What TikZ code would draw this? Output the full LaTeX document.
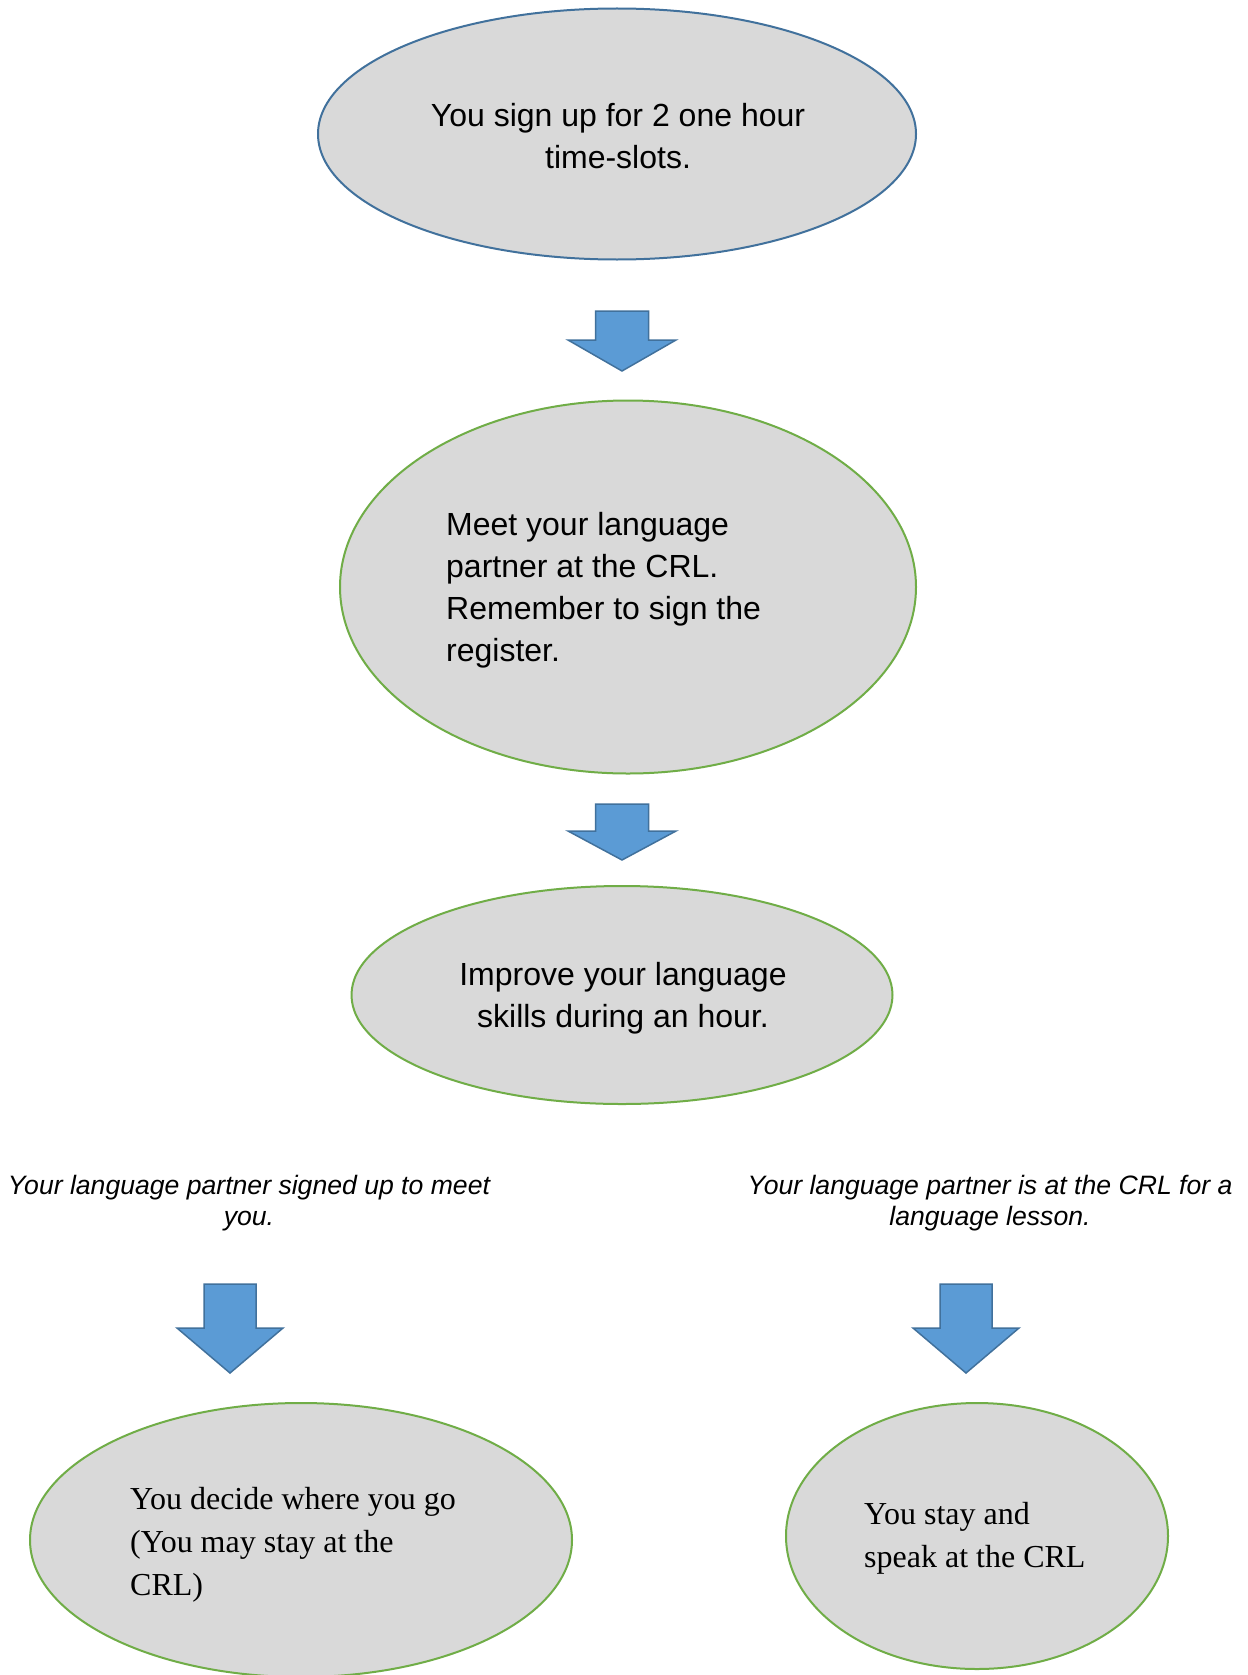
\documentclass[tikz,border=0pt]{standalone}
\usepackage{fontspec}
\setmainfont{Liberation Sans}
\newfontfamily\timesfont{Liberation Serif}
\usetikzlibrary{shapes.geometric}
\definecolor{fillgray}{HTML}{D9D9D9}
\definecolor{blueline}{HTML}{41719C}
\definecolor{greenline}{HTML}{70AD47}
\definecolor{arrowblue}{HTML}{5B9BD5}
\tikzset{
  oval/.style={ellipse, fill=fillgray, line width=2pt, inner sep=0pt},
  bluebox/.style={oval, draw=blueline},
  greenbox/.style={oval, draw=greenline},
  bodytext/.style={inner sep=0pt, font=\fontsize{32}{42}\selectfont},
  serifbody/.style={inner sep=0pt, align=left, font=\timesfont\fontsize{32}{43}\selectfont},
  note/.style={inner sep=0pt, align=center, font=\itshape\fontsize{26.6}{31}\selectfont},
  blockarrow/.style={fill=arrowblue, draw=blueline, line width=1.5pt, line join=miter},
}
\begin{document}
\begin{tikzpicture}[x=1pt, y=-1pt]
\fill[white] (0,0) rectangle (1247,1675);
\useasboundingbox (0,0) rectangle (1247,1675);

% ellipses
\node[bluebox, minimum width=598pt, minimum height=251pt] (e1) at (617,134) {};
\node[greenbox, minimum width=576pt, minimum height=373pt] (e2) at (628,587) {};
\node[greenbox, minimum width=541pt, minimum height=218pt] (e3) at (622,995) {};
\node[greenbox, minimum width=542pt, minimum height=274pt] (e4) at (301,1540) {};
\node[greenbox, minimum width=382pt, minimum height=266pt] (e5) at (977,1536) {};

% texts
\node[bodytext, align=center] (t1) at (618,136) {You sign up for 2 one hour\\time-slots.};
\node[bodytext, align=left, anchor=west] (t2) at (446,590) {Meet your language\\partner at the CRL.\\Remember to sign the\\register.};
\node[bodytext, align=center] (t3) at (623,998) {Improve your language\\skills during an hour.};
\node[serifbody, anchor=west] (t4) at (130,1545) {You decide where you go\\(You may stay at the\\CRL)};
\node[serifbody, anchor=west] (t5) at (864,1538) {You stay and\\speak at the CRL};

% notes
\node[note] (n1) at (249,1203) {Your language partner signed up to meet\\you.};
\node[note] (n2) at (990,1203) {Your language partner is at the CRL for a\\language lesson.};

% block arrows
\draw[blockarrow] (595.5,311) -- (648.5,311) -- (648.5,340) -- (676,340) -- (622,371) -- (568,340) -- (595.5,340) -- cycle;
\draw[blockarrow] (595.5,804) -- (648.5,804) -- (648.5,831) -- (676,831) -- (622,860) -- (568,831) -- (595.5,831) -- cycle;
\draw[blockarrow] (204,1284) -- (256,1284) -- (256,1328) -- (283,1328) -- (230,1373) -- (177,1328) -- (204,1328) -- cycle;
\draw[blockarrow] (940,1284) -- (992,1284) -- (992,1328) -- (1019,1328) -- (966,1373) -- (913,1328) -- (940,1328) -- cycle;
\end{tikzpicture}
\end{document}
